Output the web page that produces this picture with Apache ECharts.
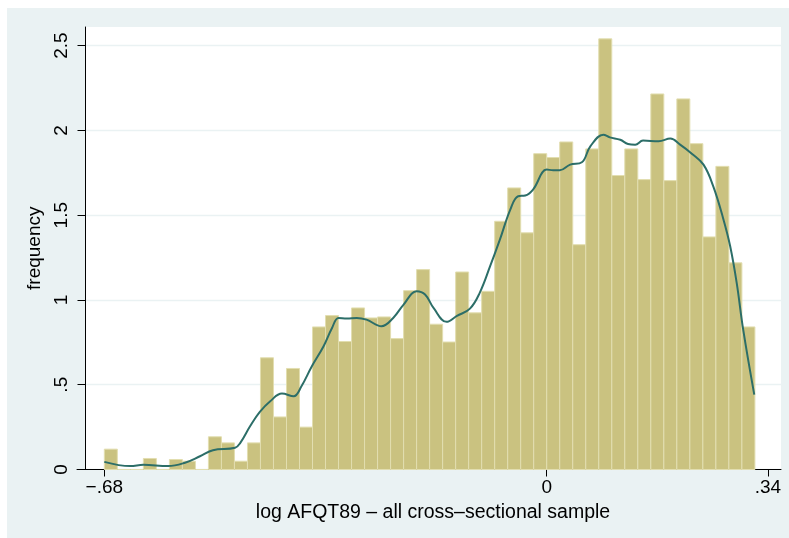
<!DOCTYPE html>
<html>
<head>
<meta charset="utf-8">
<script src="https://cdn.jsdelivr.net/npm/echarts@6/dist/echarts.min.js"></script>
<style>
  html, body { margin: 0; padding: 0; background: #fff; }
  #chart { width: 789px; height: 538px; }
</style>
</head>
<body>
<div id="chart"></div>
<script>
// histogram bins: 50 bins of width .02 starting at -.68
var binStart = -0.68;
var binWidth = 0.02;
var binHeights = [
  0.12, 0, 0, 0.065, 0, 0.059, 0.049, 0, 0.193, 0.157,
  0.049, 0.157, 0.659, 0.31, 0.596, 0.25, 0.841, 0.908, 0.755, 0.953,
  0.894, 0.9, 0.772, 1.055, 1.179, 0.857, 0.752, 1.165, 0.924, 1.051,
  1.464, 1.661, 1.396, 1.863, 1.84, 1.932, 1.326, 1.891, 2.54, 1.734,
  1.891, 1.71, 2.215, 1.704, 2.186, 1.922, 1.372, 1.788, 1.219, 0.841
];

// kernel density curve
var kdeX = [
  -0.68, -0.64, -0.62, -0.582, -0.556, -0.533, -0.513, -0.479, -0.471, -0.456,
  -0.441, -0.425, -0.407, -0.389, -0.377, -0.361, -0.343, -0.33, -0.32, -0.307,
  -0.292, -0.277, -0.254, -0.236, -0.22, -0.2, -0.187, -0.174, -0.154, -0.138,
  -0.118, -0.103, -0.087, -0.072, -0.056, -0.044, -0.033, -0.021, 0, 0.01,
  0.02, 0.036, 0.054, 0.067, 0.087, 0.097, 0.113, 0.125, 0.136, 0.148,
  0.172, 0.19, 0.205, 0.223, 0.241, 0.256, 0.271, 0.282, 0.292, 0.302, 0.319
];
var kdeY = [
  0.045, 0.02, 0.028, 0.02, 0.04, 0.078, 0.114, 0.128, 0.157, 0.255,
  0.34, 0.403, 0.448, 0.432, 0.491, 0.609, 0.727, 0.835, 0.894, 0.89,
  0.894, 0.884, 0.845, 0.894, 0.973, 1.051, 1.032, 0.953, 0.871, 0.906,
  0.949, 1.042, 1.199, 1.356, 1.533, 1.612, 1.616, 1.651, 1.769, 1.765,
  1.765, 1.798, 1.812, 1.906, 1.975, 1.959, 1.945, 1.92, 1.916, 1.94,
  1.936, 1.952, 1.916, 1.863, 1.798, 1.67, 1.484, 1.317, 1.101, 0.825, 0.442
];

var xTicks = [-0.68, 0, 0.34];
var yTicks = [0, 0.5, 1, 1.5, 2, 2.5];

var bgColor = "#EAF2F3";
var fontFamily = "Liberation Sans, Arial, sans-serif";

function stataNum(v) {
  if (v === 0) return "0";
  var s = String(Math.abs(v)).replace(/^0\./, ".");
  return (v < 0 ? "\u2212" : "") + s;
}

var barData = binHeights.map(function (h, i) {
  var x0 = +(binStart + i * binWidth).toFixed(4);
  return [x0, +(x0 + binWidth).toFixed(4), h];
});
var kdeData = kdeX.map(function (x, i) {
  return [x, kdeY[i]];
});

var chart = echarts.init(document.getElementById("chart"));
var options = {
  animation: false,
  backgroundColor: "#fff",
  graphic: [
    {
      type: "rect",
      z: -20,
      silent: true,
      shape: { x: 7, y: 8, width: 782, height: 530 },
      style: { fill: bgColor },
    },
    {
      type: "rect",
      z: -10,
      silent: true,
      shape: { x: 85.5, y: 27, width: 695.5, height: 442.5 },
      style: { fill: "#fff" },
    },
  ],
  grid: {
    left: 77,
    right: 8,
    top: 27,
    bottom: 68.5,
  },
  xAxis: {
    type: "value",
    min: -0.722,
    max: 0.3601,
    name: "log AFQT89 \u2013 all cross\u2013sectional sample",
    nameLocation: "middle",
    nameGap: 29,
    nameTextStyle: {
      color: "#000",
      fontSize: 19.5,
      fontFamily: fontFamily,
      padding: [0, 0, 0, 8],
    },
    axisLine: {
      show: true,
      onZero: false,
      lineStyle: { color: "#000", width: 1 },
    },
    axisTick: {
      show: true,
      length: 7,
      customValues: xTicks,
      lineStyle: { color: "#000", width: 1 },
    },
    axisLabel: {
      color: "#000",
      fontSize: 19,
      fontFamily: fontFamily,
      margin: 9,
      customValues: xTicks,
      formatter: stataNum,
    },
    splitLine: { show: false },
  },
  yAxis: {
    type: "value",
    min: 0,
    max: 2.61,
    offset: -8.5,
    name: "frequency",
    nameLocation: "middle",
    nameGap: 36,
    nameTextStyle: {
      color: "#000",
      fontSize: 19,
      fontFamily: fontFamily,
    },
    axisLine: {
      show: true,
      onZero: false,
      lineStyle: { color: "#000", width: 1 },
    },
    axisTick: {
      show: true,
      length: 8,
      customValues: yTicks,
      lineStyle: { color: "#000", width: 1 },
    },
    axisLabel: {
      color: "#000",
      fontSize: 19,
      fontFamily: fontFamily,
      rotate: 90,
      margin: 14,
      customValues: yTicks,
      formatter: stataNum,
    },
    splitLine: {
      show: true,
      lineStyle: { color: bgColor, width: 1.3 },
    },
  },
  series: [
    {
      name: "histogram",
      type: "custom",
      data: barData,
      encode: { x: [0, 1], y: 2 },
      z: 2,
      renderItem: function (params, api) {
        var p0 = api.coord([api.value(0), 0]);
        var p1 = api.coord([api.value(1), api.value(2)]);
        return {
          type: "rect",
          shape: {
            x: p0[0],
            y: p1[1],
            width: p1[0] - p0[0],
            height: p0[1] - p1[1],
          },
          style: {
            fill: "#CAC280",
            stroke: "#E2DEB0",
            lineWidth: 1,
          },
        };
      },
    },
    {
      name: "density",
      type: "line",
      data: kdeData,
      smooth: 0.4,
      showSymbol: false,
      z: 3,
      lineStyle: { color: "#2C6E68", width: 2 },
    },
  ],
};
chart.setOption(options, true);
</script>
</body>
</html>
